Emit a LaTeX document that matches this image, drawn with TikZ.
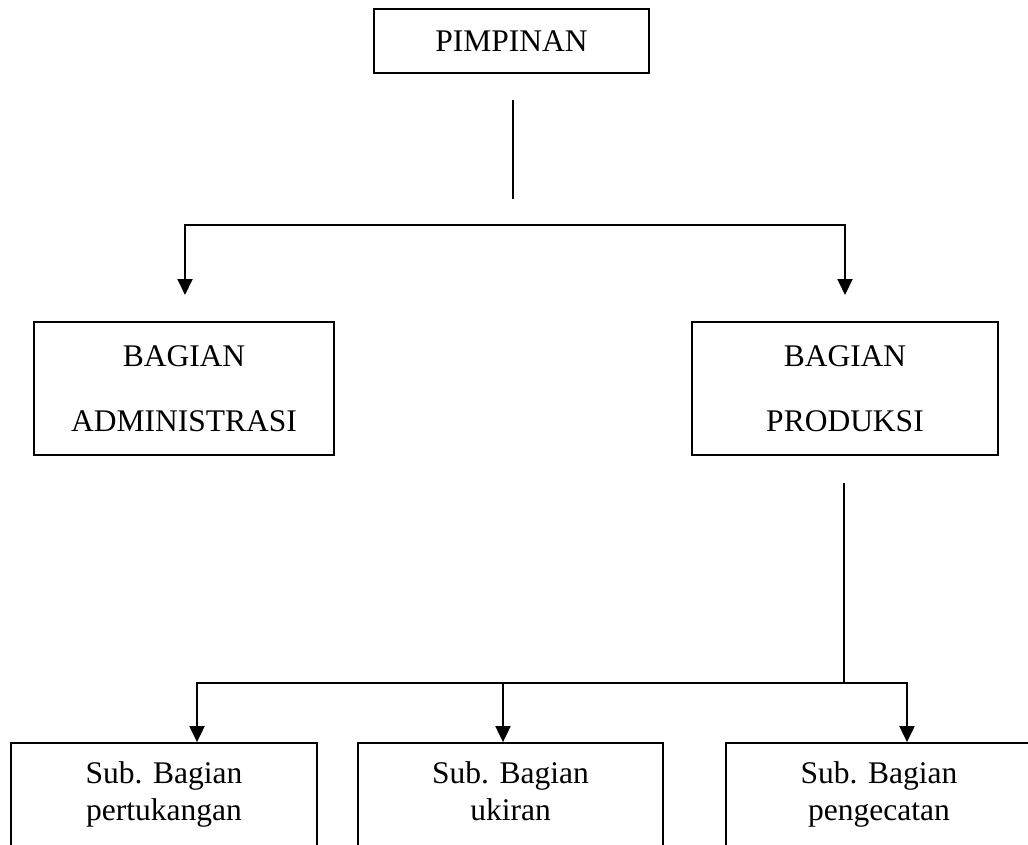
\documentclass[tikz,border=0pt]{standalone}
\usepackage{fontspec}
\setmainfont{Liberation Serif}
\usetikzlibrary{arrows.meta}

\begin{document}
\begin{tikzpicture}[x=1pt, y=-1pt, line width=2pt,
   kotak/.style={draw, line width=1.8pt, align=center, inner sep=0pt,
      font=\fontsize{31.5}{37}\selectfont},
   bagian/.style={kotak, minimum height=133pt, font=\fontsize{31.5}{65}\selectfont},
   subbagian/.style={kotak, minimum height=104pt},
   panah/.style={-{Triangle[length=16pt, width=15pt]}}]

   \useasboundingbox (0,0) rectangle (1028,845);
   \clip (0,0) rectangle (1028,845);

   \node[kotak, minimum width=275pt, minimum height=64pt] (pimpinan) at (511.5,41) {PIMPINAN};

   \node[bagian, minimum width=300pt] (admin) at (184,388.5) {BAGIAN\\ADMINISTRASI};
   \node[bagian, minimum width=306pt] (produksi) at (845,388.5) {BAGIAN\\PRODUKSI};

   \node[subbagian, minimum width=306pt] (sub1) at (164,795) {Sub. Bagian\strut\\pertukangan\strut};
   \node[subbagian, minimum width=305pt] (sub2) at (510.5,795) {Sub. Bagian\strut\\ukiran\strut};
   \node[subbagian, minimum width=306pt] (sub3) at (879,795) {Sub. Bagian\strut\\pengecatan\strut};

   \coordinate (garis1) at (513,100);
   \coordinate (garis2) at (513,199);
   \coordinate (bus1) at (513,225);
   \coordinate (ujungA) at (185,295);
   \coordinate (ujungB) at (845,295);
   \coordinate (garis3) at (844,483);
   \coordinate (bus2) at (844,683);

   \draw (garis1) -- (garis2);
   \draw[panah] (bus1) -| (ujungA);
   \draw[panah] (bus1) -| (ujungB);

   \draw (garis3) -- (bus2);
   \draw[panah] (bus2) -| ([xshift=33pt]sub1.north);
   \draw[panah] (bus2) -| ([xshift=-7.5pt]sub2.north);
   \draw[panah] (bus2) -| ([xshift=28pt]sub3.north);

\end{tikzpicture}
\end{document}
